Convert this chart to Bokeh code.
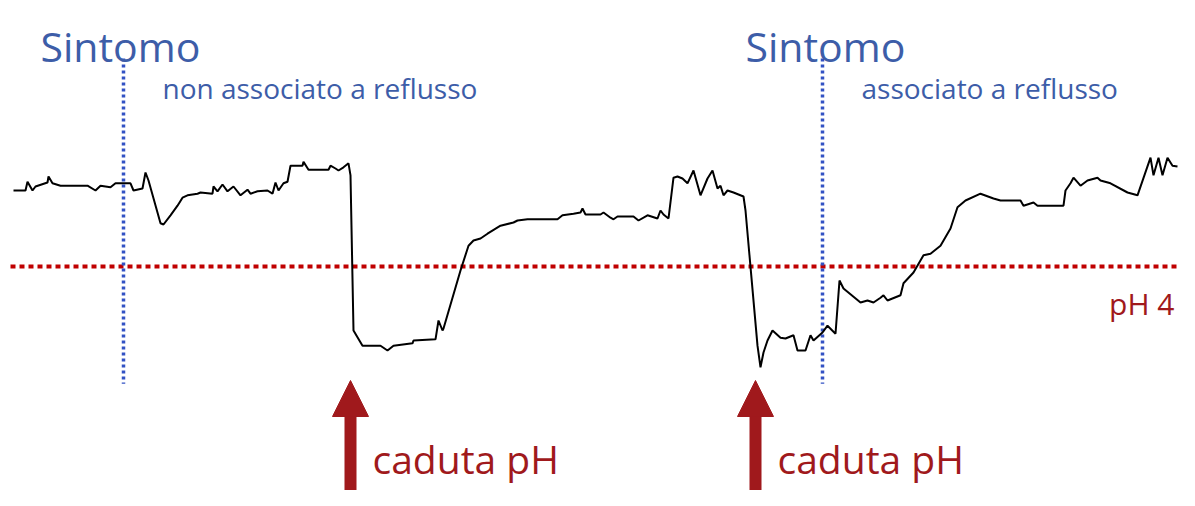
from bokeh.plotting import figure
from bokeh.models import Range1d, Arrow, NormalHead
from bokeh.core.properties import value
from bokeh.embed import file_html
from bokeh.resources import INLINE

time = [13, 25, 27, 32, 35, 47, 48, 52, 60, 87, 95, 100, 110, 115, 130, 133, 142, 145, 148,
        160, 163, 170, 177, 182, 187, 197, 200, 212, 213, 217, 222, 227, 233, 240, 247, 250,
        257, 267, 272, 275, 278, 283, 287, 290, 302, 303, 308, 328, 330, 335, 338, 343, 348,
        350, 353, 362, 380, 387, 393, 412, 413, 435, 438, 442, 443, 460, 468, 473, 480, 487,
        500, 513, 517, 527, 557, 562, 573, 580, 582, 585, 600, 603, 610, 613, 617, 633, 638,
        647, 657, 660, 663, 668, 673, 677, 682, 687, 693, 700, 707, 712, 717, 720, 723, 727,
        733, 743, 745, 757, 760, 763, 767, 772, 780, 785, 793, 797, 805, 810, 813, 822, 827,
        835, 839, 843, 860, 867, 873, 880, 883, 887, 900, 903, 913, 923, 930, 940, 950, 957,
        965, 980, 993, 1000, 1020, 1023, 1033, 1037, 1063, 1065, 1070, 1073, 1080, 1087, 1097,
        1100, 1110, 1127, 1137, 1150, 1153, 1158, 1162, 1167, 1172, 1177]
ph = [5.90, 5.90, 6.12, 5.90, 6.00, 6.10, 6.25, 6.08, 6.02, 6.02, 5.90, 6.02, 5.98, 6.08, 6.08,
      5.90, 5.95, 6.35, 6.15, 5.08, 5.05, 5.28, 5.52, 5.72, 5.78, 5.82, 5.85, 5.82, 6.00, 5.88,
      6.05, 5.88, 6.00, 5.78, 5.92, 5.82, 5.88, 5.90, 5.82, 6.10, 5.90, 6.08, 6.12, 6.52, 6.52,
      6.62, 6.42, 6.42, 6.52, 6.45, 6.40, 6.48, 6.58, 6.28, 2.40, 2.02, 2.02, 1.90, 2.02, 2.08,
      2.15, 2.18, 2.65, 2.40, 2.45, 3.90, 4.52, 4.65, 4.70, 4.82, 5.02, 5.10, 5.15, 5.18, 5.18,
      5.28, 5.32, 5.35, 5.45, 5.30, 5.30, 5.35, 5.22, 5.18, 5.25, 5.25, 5.15, 5.28, 5.20, 5.40,
      5.30, 5.20, 6.22, 6.25, 6.20, 6.08, 6.40, 5.78, 6.20, 6.40, 5.95, 6.02, 5.78, 5.90, 5.85,
      5.75, 5.40, 2.02, 1.48, 1.85, 2.15, 2.40, 2.22, 2.20, 2.28, 1.90, 1.90, 2.28, 2.15, 2.35,
      2.52, 2.32, 3.65, 3.45, 3.10, 3.15, 3.10, 3.22, 3.28, 3.15, 3.28, 3.58, 3.85, 4.28, 4.32,
      4.52, 4.95, 5.48, 5.65, 5.82, 5.70, 5.65, 5.65, 5.52, 5.60, 5.52, 5.52, 5.90, 6.08, 6.22,
      6.02, 6.15, 6.22, 6.15, 6.08, 5.85, 5.78, 6.72, 6.28, 6.72, 6.28, 6.72, 6.52, 6.50]

symptom_times = [123, 822]
symptom_labels = ["non associato a reflusso", "associato a reflusso"]
drop_times = [350, 755]
threshold_ph = 4
threshold_label = "pH 4"
drop_label = "caduta pH"

BLUE_TXT = "#3D5DA8"
BLUE_LINE = "#3352C4"
RED = "#C00000"
DARK_RED = "#A0191C"

p = figure(width=1179, height=490, output_backend="svg", toolbar_location=None,
           x_range=Range1d(0, 1179), y_range=Range1d(-1.6, 10.65),
           min_border=0, outline_line_color=None)
p.axis.visible = False
p.grid.visible = False
p.background_fill_color = "white"
p.border_fill_color = "white"

# pH 4 threshold
p.segment(x0=[10], y0=[threshold_ph], x1=[1187], y1=[threshold_ph],
          line_color=RED, line_width=4, line_dash="5 4")

# symptom markers
p.segment(x0=symptom_times, y0=[9.2] * 2, x1=symptom_times, y1=[1.07] * 2,
          line_color=BLUE_LINE, line_width=3.5, line_dash="3 3")

# pH trace
p.line(time, ph, line_color="black", line_width=2)

# texts
off = [-83, -77]
p.text(x=[t + o for t, o in zip(symptom_times, off)], y=[9.52] * 2, text=["Sintomo"] * 2,
       text_font=value("Open Sans"), text_font_size="41px", text_color=BLUE_TXT,
       text_baseline="alphabetic", text_align="left")
p.text(x=[t + 39 for t in symptom_times], y=[8.47] * 2, text=symptom_labels,
       text_font=value("Open Sans"), text_font_size="28px", text_color=BLUE_TXT,
       text_baseline="alphabetic", text_align="left")
p.text(x=[1174], y=[3.07], text=[threshold_label],
       text_font=value("Open Sans"), text_font_size="30px", text_color=DARK_RED,
       text_baseline="alphabetic", text_align="right")
p.text(x=[t + 22 for t in drop_times], y=[-0.8] * 2, text=[drop_label] * 2,
       text_font=value("Open Sans"), text_font_size="39px", text_color=DARK_RED,
       text_baseline="alphabetic", text_align="left")

for t in drop_times:
    p.add_layout(Arrow(end=NormalHead(size=36, fill_color=DARK_RED, line_color=DARK_RED),
                       x_start=t, y_start=-2.2, x_end=t, y_end=1.15,
                       line_color=DARK_RED, line_width=12))

open("out.html", "w").write(file_html(p, INLINE))
